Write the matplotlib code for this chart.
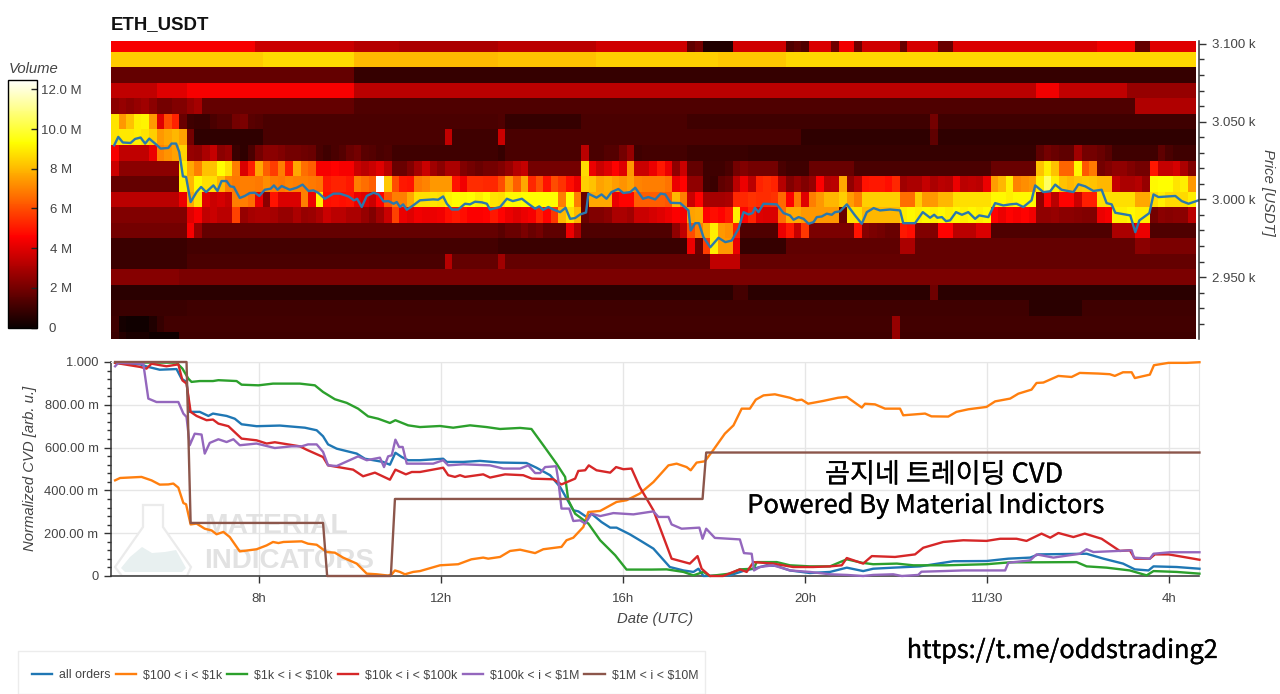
import numpy as np
import matplotlib
matplotlib.use('Agg')
import matplotlib.pyplot as plt
import matplotlib.patheffects as pe
from matplotlib.patches import Polygon, Rectangle
from matplotlib.ticker import MultipleLocator
from matplotlib.transforms import ScaledTranslation

plt.rcParams['font.family'] = ['Liberation Sans', 'DejaVu Sans']
plt.rcParams['text.parse_math'] = False

W, H = 1280, 694

# heatmap: price bands top to bottom, volume in millions per 10 minute column
price_edges = [3101.9] + [3095 - 10 * i for i in range(19)] + [2910.5]

row_00 = [4.4]*19 + [3.6]*13 + [3.2]*6 + [3.0]*13 + [3.3]*13 + [3.7]*12 + [1.6, 2.0] + [0.4]*4 + [3.7]*7 + [1.3, 1.6, 1.3] + [3.9]*3 + [1.9] + [4.3]*2 + [1.9] + [3.7]*5 + [1.8] + [3.8]*4 + [1.8]*2 + [3.9]*19 + [4.3]*5 + [1.7]*2 + [4.0]*6
row_01 = [8.35]*20 + [8.6]*12 + [8.05]*19 + [8.2]*13 + [8.4]*16 + [8.3]*9 + [8.55]*54
row_02 = [1.7]*32 + [0.8]*111
row_03 = [3.4]*6 + [4.0]*4 + [4.4]*22 + [3.3]*90 + [4.3]*3 + [3.4]*9 + [2.6]*9
row_04 = [2.4, 2.6, 2.4, 2.6, 2.8, 2.4, 2.0, 2.0, 2.2, 2.2, 2.6, 2.9] + [1.7]*20 + [1.3]*103 + [3.1]*8
row_05 = [8.8, 7.4, 8.2, 9.0, 9.1, 7.4, 4.0, 6.0, 5.2, 1.8, 1.0, 0.9, 0.9, 1.2, 1.4, 1.4, 2.0, 2.1, 1.5, 1.4] + [1.2]*31 + [1.3] + [0.8]*10 + [1.2]*14 + [1.0]*32 + [2.0] + [1.0]*34
row_06 = [8.8, 8.9, 8.9, 9.0, 8.8, 8.4, 7.4, 7.7, 8.0, 7.6, 2.0] + [0.7]*9 + [1.2]*24 + [3.4] + [1.0]*6 + [3.6] + [1.2]*39 + [0.7]*17 + [1.6] + [0.7]*34
row_07 = [4.4, 3.4, 3.4, 3.4, 3.4, 4.2, 7.0, 7.3, 7.6, 8.5, 2.6, 2.5, 3.0, 3.5, 2.4, 2.6, 0.9, 0.7, 1.2, 2.0,
          2.4, 2.4, 2.2, 2.0, 2.0, 1.9, 1.8, 1.2, 1.0, 1.2, 1.4, 1.8, 2.0, 1.5, 1.4, 1.2, 1.3] + [1.0]*14 + [0.8] + [1.2]*10 + [3.3, 1.2, 1.2, 1.4, 1.4, 2.0, 2.6, 1.0] + [1.1]*6 + [0.9]*8 + [0.8]*38 + [1.6, 2.0, 1.8, 1.6, 1.6, 2.8, 2.0, 2.0, 1.8, 1.5] + [1.0]*5 + [1.0, 1.6, 1.2, 1.0, 1.0, 1.0]
row_08 = [3.6] + [2.4]*8 + [9.0, 7.7, 6.9, 8.2, 8.2, 9.3, 8.7, 6.9, 3.9, 5.1, 7.7, 6.3, 5.7, 6.9, 5.1, 7.7, 6.6, 6.3, 4.4, 4.4,
          4.6, 4.4, 4.4, 3.6, 3.3, 3.6, 4.0, 3.3, 1.8, 1.8, 2.2, 2.9, 3.6, 2.8, 2.4, 3.0, 3.0, 2.2, 2.0, 1.8, 2.0, 2.0, 2.2, 2.6, 3.2, 3.5] + [2.0]*7 + [8.6, 4.2, 3.6, 4.0, 4.6, 4.0, 7.4, 3.6, 3.6, 4.2, 5.0, 4.2, 2.5, 3.6, 1.7, 1.7, 1.0, 1.0, 1.0, 1.2, 2.0, 2.2, 2.0, 2.0, 2.0, 2.0, 1.2, 1.0, 1.0, 1.0] + [1.8]*6 + [1.2]*18 + [1.8]*6 + [8.2, 9.0, 8.2, 6.4, 6.4, 9.2, 6.2, 6.8, 2.0, 2.2, 2.5, 2.5, 2.2, 2.0, 2.0, 5.0, 3.5, 3.5, 3.8, 3.0, 2.2]
row_09 = [1.7]*9 + [9.0, 8.0, 9.2, 8.7, 8.7, 8.0, 7.0, 6.8, 6.9, 6.9, 6.8, 7.2, 6.9, 6.8, 7.0, 6.9, 6.9, 6.8, 6.7, 5.0, 5.2, 5.2, 5.0, 6.9, 6.6, 6.3, 12.5, 8.3, 6.0, 5.0, 4.9,
          6.8, 7.0, 7.4, 7.4, 7.4, 4.9, 4.3, 5.4, 5.4, 5.3, 5.3, 6.0, 7.4, 6.3, 7.7, 5.3, 6.1, 4.9, 6.0, 5.5, 4.8, 4.2, 8.4, 8.2, 7.6, 7.8, 7.5, 7.3, 7.6, 7.0,
          6.9, 6.9, 6.9, 6.7, 4.2, 4.6, 2.5, 2.5, 1.0, 0.9, 1.6, 1.8, 3.3, 4.2, 3.3, 5.2, 5.4, 5.2, 3.2, 2.2, 2.6, 2.2, 2.6, 4.5, 3.2, 3.3, 7.7, 2.5, 3.2, 4.9, 5.0, 5.0, 4.8, 5.3,
          2.8, 3.0, 3.0, 3.5, 3.0, 3.3, 3.2, 4.2, 3.3, 3.4, 3.3, 4.2, 7.5, 8.0, 9.0, 7.0, 7.2, 7.4, 9.0, 10.5, 9.0, 8.2, 8.0, 8.2, 8.3, 8.2, 8.0, 8.0, 3.5, 3.0, 3.0, 3.2, 2.6, 9.2, 9.3, 9.3, 8.8, 9.0, 7.4]
row_10 = [3.3]*9 + [4.2, 7.7, 8.7, 4.0, 3.6, 3.8, 3.5, 6.9, 6.9, 6.6, 4.2, 2.4, 4.9, 3.9, 3.9, 3.9, 6.9, 4.2, 9.0, 4.8, 4.9, 4.8, 4.9, 4.2, 4.0, 3.6, 4.6, 6.2, 6.9, 6.9, 7.7, 8.7, 8.7, 8.8, 8.7, 9.1,
          9.3, 9.2, 9.3, 9.0, 9.3, 8.8, 8.7, 9.2, 9.2, 9.3, 9.3, 9.3, 9.3, 9.3, 6.9, 9.3, 6.9, 1.8, 7.7, 7.7, 7.7, 4.2, 4.6, 4.6, 6.3, 6.3, 6.3, 6.3, 6.2, 8.0, 6.9, 3.6, 4.6, 2.9, 2.9, 2.9, 3.0,
          5.3, 5.3, 5.5, 5.4, 5.4, 5.5, 6.5, 4.5, 6.8, 4.0, 6.9, 7.4, 8.0, 8.0, 8.4, 7.5, 6.9, 8.4, 8.4, 8.4, 8.4, 8.4, 6.6, 6.6, 8.4, 7.4, 7.4, 8.0, 8.0, 8.7, 8.7, 8.7, 8.7, 8.7,
          9.2, 9.2, 9.0, 9.2, 9.2, 9.2, 2.5, 4.6, 3.3, 4.6, 4.6, 3.6, 5.1, 5.1, 8.7, 8.7, 8.7, 8.7, 8.7, 7.7, 7.7, 8.6, 9.0, 8.6, 8.6, 8.6, 9.0]
row_11 = [2.2]*10 + [4.0, 4.4, 3.4, 3.6, 3.3, 3.3, 5.8, 2.6, 2.9, 3.0, 3.0, 2.9, 2.6, 2.6, 3.0, 2.6, 2.7, 3.0, 3.6, 3.3, 3.3, 3.0, 3.0, 2.6, 2.2, 2.8, 3.6, 5.8, 4.2, 4.0, 4.3, 4.2, 4.2, 4.3, 4.8, 5.0, 4.8, 4.5, 4.5, 4.6, 5.0,
          4.6, 4.2, 4.0, 4.2, 4.4, 5.2, 4.6, 5.6, 8.0, 8.7, 8.0, 1.8, 2.2, 2.2, 2.4, 3.0, 3.0, 2.8, 3.6, 3.6, 3.8, 4.0, 4.2, 4.5, 4.4, 7.6, 7.7, 4.6, 4.8, 4.6, 5.0, 9.0, 4.6, 5.2, 4.0, 3.9, 3.9,
          6.6, 7.7, 7.7, 7.4, 7.4, 7.4, 7.4, 7.4, 1.8, 8.7, 8.7, 8.0, 8.0, 8.0, 8.0, 8.0, 9.0, 9.2, 9.0, 9.2, 9.0, 9.2, 9.0, 9.2, 9.0, 9.2, 9.0, 9.2,
          4.6, 4.2, 4.6, 4.4, 4.6, 4.3, 2.5, 2.5, 2.6, 2.4, 2.4, 2.3, 2.2, 2.2, 4.2, 4.4, 9.0, 9.0, 9.2, 9.0, 9.0, 2.0, 2.4, 2.3, 2.4, 2.4, 3.3]
row_12 = [2.0]*10 + [4.4, 2.6] + [1.7]*39 + [1.5, 1.8, 1.8, 2.1, 1.8, 2.0, 1.6, 1.6, 1.6, 4.2, 3.0] + [1.3]*12 + [2.5, 3.4, 6.0, 6.9, 7.7, 9.0, 7.4, 7.2, 5.2] + [1.3]*5 + [4.2, 5.0, 3.5, 5.6] + [2.1]*6 + [4.9, 2.3, 2.1, 2.0, 1.8, 1.8, 5.0, 4.8, 2.2, 2.2, 2.2, 4.6, 4.6, 3.3, 3.3, 3.3, 3.9, 3.9] + [1.3]*16 + [3.0]*3 + [4.2]*2 + [1.3]*6
row_13 = [0.9]*10 + [1.1]*41 + [0.9]*25 + [4.2, 1.8, 5.7, 9.0, 7.4, 7.4, 4.2] + [0.8]*6 + [1.6]*15 + [3.0, 3.0] + [1.7]*29 + [2.4, 2.4] + [2.1]*6
row_14 = [0.9]*10 + [1.2]*34 + [3.2] + [1.7]*6 + [2.8] + [1.7]*27 + [3.4]*4 + [1.7]*60
row_15 = [2.3]*9 + [2.1]*134
row_16 = [0.6]*82 + [1.1]*2 + [0.6]*24 + [1.9] + [0.6]*34
row_17 = [0.9]*10 + [1.0]*111 + [0.6]*7 + [1.0]*15
row_18 = [1.0, 0.2, 0.1, 0.1, 0.1, 0.4, 0.8] + [1.05]*96 + [2.6] + [1.05]*39
row_19 = [0.9, 0.5, 0.3, 0.3, 0.3, 0.1, 0.1, 0.1, 0.1] + [1.0]*94 + [2.6] + [1.0]*39

rows = [row_00, row_01, row_02, row_03, row_04, row_05, row_06, row_07, row_08, row_09,
        row_10, row_11, row_12, row_13, row_14, row_15, row_16, row_17, row_18, row_19]

# price line, hours since midnight of the first day
price_t = [4.82, 4.91, 5.01, 5.18, 5.28, 5.40, 5.50, 5.59, 5.72, 5.84, 6.01, 6.08, 6.18, 6.25, 6.33, 6.40, 6.50, 6.63, 6.73, 6.84,
           7.00, 7.09, 7.18, 7.29, 7.37, 7.45, 7.58, 7.69, 7.80, 7.91, 8.01, 8.13, 8.26, 8.33, 8.41, 8.50, 8.68, 8.83, 8.96, 9.09,
           9.20, 9.31, 9.45, 9.64, 9.78, 9.97, 10.09, 10.16, 10.26, 10.37, 10.52, 10.63, 10.74, 10.85, 10.96, 11.03, 11.10, 11.17, 11.25, 11.39,
           11.54, 11.83, 11.94, 12.05, 12.13, 12.24, 12.38, 12.53, 12.64, 12.75, 12.90, 13.01, 13.08, 13.30, 13.45, 13.58, 13.78, 13.92, 14.07, 14.16,
           14.25, 14.36, 14.47, 14.62, 14.74, 14.84, 14.95, 15.06, 15.19, 15.24, 15.42, 15.53, 15.64, 15.75, 15.90, 16.01, 16.16, 16.27, 16.44, 16.56,
           16.71, 16.83, 16.93, 17.05, 17.26, 17.44, 17.49, 17.59, 17.67, 17.77, 17.92, 18.10, 18.25, 18.39, 18.54, 18.65, 18.76, 18.85, 18.90, 18.98,
           19.09, 19.38, 19.53, 19.67, 19.75, 19.86, 19.97, 20.08, 20.19, 20.26, 20.37, 20.48, 20.59, 20.66, 20.77, 20.92, 21.10, 21.25, 21.36, 21.51,
           21.65, 21.87, 22.09, 22.16, 22.42, 22.59, 22.75, 22.84, 22.91, 23.01, 23.10, 23.19, 23.32, 23.45, 23.59, 23.74, 23.83, 24.03, 24.18, 24.36,
           24.51, 24.65, 24.80, 24.98, 25.06, 25.24, 25.39, 25.50, 25.64, 25.90, 26.01, 26.16, 26.34, 26.52, 26.63, 26.74, 26.82, 27.15, 27.26, 27.35,
           27.57, 27.66, 27.77, 28.14, 28.28, 28.43, 28.65]
price_v = [3034.8, 3040.2, 3036.6, 3036.3, 3038.9, 3039.8, 3035.9, 3039.1, 3035.9, 3032.7, 3033.1, 3035.9, 3035.9, 3030.5, 3014.8, 3014.4, 2998.3, 3004.7, 3008.0, 3004.7,
           3009.0, 3005.4, 3011.8, 3011.8, 3008.4, 3008.0, 3000.9, 3002.2, 3004.1, 3004.3, 3002.2, 3006.2, 3006.9, 3009.0, 3006.2, 3008.6, 3006.2, 3007.5, 3009.5, 3005.4,
           3005.8, 3004.1, 3000.4, 3003.7, 3003.7, 3001.9, 2999.4, 3000.4, 2995.1, 3002.2, 3004.3, 3003.2, 2998.7, 2998.9, 2997.2, 2998.3, 2995.1, 2996.8, 2993.3, 2996.1,
           2999.4, 3000.0, 2999.8, 3001.9, 2997.2, 2993.5, 2993.5, 2997.2, 2996.8, 2998.5, 2998.1, 2997.2, 2993.5, 2995.1, 3000.4, 2998.9, 3000.4, 2997.2, 2994.0, 2995.5,
           2993.3, 2995.1, 2993.5, 2991.8, 2994.6, 2987.5, 2988.0, 2990.3, 2991.6, 3003.7, 3001.1, 3003.2, 3000.4, 3004.7, 3006.7, 3004.1, 3004.7, 3007.5, 3000.4, 3001.5,
           3000.0, 3003.7, 3003.2, 2997.8, 2997.6, 2992.9, 2980.0, 2984.7, 2984.7, 2975.7, 2969.2, 2975.3, 2972.5, 2973.5, 2981.1, 2991.8, 2990.3, 2991.2, 2994.6, 2991.8,
           2997.2, 2996.8, 2991.2, 2989.7, 2986.9, 2988.6, 2987.5, 2984.3, 2985.4, 2988.6, 2989.0, 2990.8, 2990.1, 2991.8, 2992.3, 2996.8, 2989.7, 2984.3, 2991.8, 2994.4,
           2992.9, 2993.5, 2992.9, 2984.7, 2984.7, 2991.8, 2988.2, 2990.1, 2988.2, 2988.6, 2986.0, 2986.5, 2991.8, 2990.1, 2991.8, 2987.5, 2989.7, 2988.6, 2997.6, 2996.1,
           2996.8, 2997.2, 2995.1, 2999.4, 3009.0, 3004.7, 3005.2, 3009.5, 3006.2, 3004.7, 3009.7, 3008.4, 3005.4, 3006.2, 2997.6, 2996.8, 2991.4, 2989.7, 2978.9, 2986.5,
           2991.2, 3003.2, 3001.5, 3002.2, 2998.9, 2997.2, 2999.4]

# normalized CVD series, hours and values
all_t = [4.84, 5.39, 5.57, 5.82, 6.19, 6.30, 6.41, 6.48, 6.70, 6.89, 6.99, 7.29, 7.47, 7.62, 7.95, 8.46, 9.01, 9.27, 9.41, 9.52, 9.71, 10.15, 10.33, 10.73, 10.88, 11.0, 11.14, 11.28, 11.54,
         12.05, 12.13, 12.49, 12.86, 13.30, 13.88, 14.10, 14.40, 14.62, 14.91, 15.02, 15.2, 15.31, 15.53, 15.72, 15.86, 16.15, 16.37, 16.67, 17.03, 17.33, 17.55, 17.66, 17.77, 18.35, 18.68, 18.87, 19.16, 19.38, 19.67, 20.11, 20.55,
         20.92, 21.28, 21.5, 21.94, 22.53, 23.26, 23.99, 24.47, 24.95, 25.13, 26.19, 26.56, 26.99, 27.25, 27.55, 27.66, 28.17, 28.67]
all_v = [.996, .989, .977, .964, .967, .922, .907, .767, .767, .748, .759, .748, .735, .709, .700, .703, .693, .681, .653, .615, .595, .572, .548, .533, .520, .576, .556, .541, .541,
         .548, .533, .533, .538, .530, .528, .506, .471, .416, .307, .302, .276, .291, .252, .226, .226, .195, .167, .128, .042, .026, .019, .034, 0, .003, .026, .034, .050, .047, .026, .014, .019,
         .039, .023, .034, .039, .045, .069, .070, .081, .086, .101, .104, .081, .058, .031, .026, .045, .042, .034]

small_t = [4.84, 4.95, 5.42, 5.64, 5.82, 6.01, 6.12, 6.23, 6.34, 6.40, 6.50, 6.63, 6.81, 6.96, 7.07, 7.22, 7.36, 7.58, 7.77, 7.95, 8.17, 8.31, 8.43, 8.54, 8.94, 9.08, 9.27, 9.49, 9.67, 9.85, 10.15, 10.37, 10.59, 10.84, 10.92, 10.99, 11.10, 11.21, 11.39, 11.54,
           11.98, 12.38, 12.67, 12.93, 13.04, 13.30, 13.52, 13.74, 14.07, 14.25, 14.65, 14.76, 14.91, 15.13, 15.24, 15.50, 15.86, 16.08, 16.37, 16.67, 17.0, 17.18, 17.40, 17.49, 17.62, 17.80, 17.98, 18.24, 18.43, 18.61, 18.79, 18.92, 19.09, 19.34, 19.67, 19.82, 19.93, 20.07, 20.40,
           20.73, 20.92, 21.25, 21.32, 21.54, 21.76, 22.09, 22.16, 22.64, 22.78, 23.15, 23.33, 23.59, 23.99, 24.18, 24.51, 24.69, 24.98, 25.09, 25.24, 25.57, 25.86, 26.04, 26.45, 26.70, 26.81, 26.99, 27.18, 27.25, 27.58, 27.67, 27.99, 28.39, 28.67]
small_v = [.447, .458, .463, .447, .427, .428, .432, .413, .341, .335, .241, .245, .221, .213, .195, .206, .182, .115, .120, .125, .143, .159, .154, .159, .162, .151, .146, .112, .109, .086, .058, .011, .008, .002, .008, .026, .019, .008, .019, .023,
           .050, .055, .078, .086, .081, .089, .117, .123, .107, .125, .136, .167, .179, .229, .299, .304, .346, .354, .385, .439, .517, .525, .509, .494, .530, .536, .587, .665, .704, .782, .782, .824, .844, .849, .833, .821, .824, .805, .818,
           .833, .837, .787, .805, .802, .782, .782, .751, .759, .746, .745, .767, .779, .790, .816, .829, .852, .871, .902, .904, .935, .930, .949, .946, .943, .935, .952, .952, .925, .941, .985, .996, .996, .999]

mid_t = [4.84, 6.19, 6.32, 6.45, 6.52, 6.70, 6.99, 7.11, 7.51, 7.62, 7.99, 8.31, 8.90, 9.23, 9.41, 9.67, 9.93, 10.18, 10.40, 10.62, 10.88, 11.0, 11.28, 11.54,
         11.98, 12.27, 12.64, 13.0, 13.3, 13.74, 13.99, 14.25, 14.54, 14.73, 14.80, 14.95, 15.24, 15.50, 15.83, 16.08, 16.63, 16.96, 17.33, 17.55, 17.77, 17.91, 18.35, 18.57, 18.87, 18.94, 19.38, 19.67, 20.11, 20.55,
         20.92, 21.25, 21.5, 22.02, 22.38, 23.11, 23.99, 24.51, 25.09, 25.97, 26.19, 26.63, 27.14, 27.51, 27.66, 28.17, 28.67]
mid_v = [.998, .997, .969, .922, .907, .911, .911, .915, .911, .894, .891, .899, .899, .891, .860, .826, .809, .782, .746, .735, .715, .728, .704, .696,
         .701, .693, .704, .696, .687, .692, .687, .611, .525, .463, .354, .291, .245, .167, .097, .030, .030, .031, .019, .003, .019, 0, .011, .031, .034, .065, .065, .050, .045, .045,
         .078, .062, .055, .058, .050, .050, .055, .064, .064, .065, .045, .039, .026, .003, .023, .019, .011]

large_t = [4.84, 5.39, 5.53, 5.64, 5.97, 6.23, 6.32, 6.41, 6.50, 6.63, 6.85, 6.99, 7.11, 7.33, 7.62, 7.95, 8.17, 8.35, 8.90, 9.05, 9.41, 9.52, 10.07, 10.29, 10.55, 10.88, 11.0, 11.23, 11.36, 11.54,
           12.05, 12.16, 12.31, 12.42, 12.53, 12.93, 13.08, 13.41, 13.81, 14.0, 14.47, 14.65, 14.95, 15.02, 15.17, 15.25, 15.42, 15.72, 15.85, 16.01, 16.19, 16.37, 16.67, 17.07, 17.47, 17.64, 17.73, 17.91, 18.2, 18.57, 18.72, 18.87, 19.30, 19.74, 20.18, 20.55,
           20.81, 20.92, 21.28, 21.47, 21.98, 22.42, 22.6, 23.04, 23.48, 23.99, 24.29, 24.65, 24.87, 25.2, 25.39, 25.57, 25.90, 26.15, 26.52, 26.92, 27.14, 27.25, 27.58, 27.69, 27.99, 28.32, 28.67]
large_v = [.996, .977, .969, .992, .980, .989, .914, .899, .767, .748, .728, .731, .712, .700, .642, .634, .619, .625, .606, .590, .556, .517, .497, .466, .483, .450, .497, .475, .486, .486,
           .506, .471, .463, .471, .463, .475, .460, .475, .471, .455, .452, .428, .455, .491, .494, .517, .494, .483, .509, .499, .502, .416, .307, .081, .058, .093, .034, 0, 0, .031, .019, .065, .058, .042, .042, .045,
           .050, .084, .058, .093, .089, .101, .132, .159, .167, .164, .174, .174, .164, .198, .179, .201, .182, .198, .174, .117, .120, .081, .081, .101, .101, .089, .076]

whale_t = [4.84, 4.91, 5.46, 5.57, 5.75, 6.23, 6.34, 6.41, 6.48, 6.59, 6.74, 6.81, 6.92, 7.11, 7.29, 7.44, 7.58, 7.95, 8.35, 8.72, 8.94, 9.08, 9.27, 9.41, 9.52, 9.71, 10.18, 10.37, 10.66, 10.75, 10.84, 10.92, 11.0, 11.08, 11.16, 11.25, 11.54,
           11.83, 12.05, 12.16, 12.49, 13.08, 13.37, 13.74, 13.92, 14.07, 14.18, 14.29, 14.53, 14.58, 14.65, 14.82, 14.91, 15.06, 15.17, 15.31, 15.50, 15.79, 16.23, 16.67, 16.78, 17.0, 17.07, 17.29, 17.68, 17.75, 17.83, 18.02, 18.57, 18.66, 18.83, 18.88, 19.01, 19.30, 19.67, 20.11, 20.55,
           20.92, 21.28, 21.5, 21.94, 22.13, 22.49, 22.56, 23.04, 23.48, 24.40, 24.47, 24.95, 25.09, 25.46, 26.04, 26.19, 26.34, 27.18, 27.23, 27.58, 27.66, 28.02, 28.67]
whale_v = [.980, .996, .992, .829, .813, .813, .759, .743, .611, .665, .661, .572, .622, .639, .626, .639, .611, .619, .598, .606, .606, .615, .615, .580, .517, .514, .559, .541, .553, .509, .559, .564, .637, .603, .603, .525, .525,
           .525, .541, .517, .522, .517, .502, .502, .517, .481, .481, .509, .513, .447, .315, .315, .257, .260, .245, .291, .280, .294, .288, .302, .276, .276, .241, .221, .226, .174, .221, .178, .171, .107, .104, .026, .042, .050, .026, .019, .008,
           .005, 0, .005, .008, 0, .005, .020, .023, .026, .026, .062, .073, .101, .086, .104, .125, .112, .120, .086, .081, .104, .111, .111]

mega_t = [4.84, 6.41, 6.50, 9.41, 9.50, 10.90, 10.99, 17.75, 17.83, 28.67]
mega_v = [1.0, 1.0, .248, .248, 0, 0, .36, .36, .577, .577]

series_t = [all_t, small_t, mid_t, large_t, whale_t, mega_t]
series_v = [all_v, small_v, mid_v, large_v, whale_v, mega_v]
labels = ['all orders', '$100 < i < $1k', '$1k < i < $10k', '$10k < i < $100k', '$100k < i < $1M', '$1M < i < $10M']
colors = ['#1f77b4', '#ff7f0e', '#2ca02c', '#d62728', '#9467bd', '#8c564b']

x_ticks = [8, 12, 16, 20, 24, 28]
x_labels = ['8h', '12h', '16h', '20h', '11/30', '4h']
cvd_ticks = [0, .2, .4, .6, .8, 1.0]
cvd_labels = ['0', '200.00 m', '400.00 m', '600.00 m', '800.00 m', '1.000']
price_ticks = [2950, 3000, 3050, 3100]
price_labels = ['2.950 k', '3.000 k', '3.050 k', '3.100 k']
vol_ticks = [0, 2, 4, 6, 8, 10, 12]
vol_labels = ['0', '2 M', '4 M', '6 M', '8 M', '10.0 M', '12.0 M']


def box(left, top, right, bottom):
    return [left / W, 1 - bottom / H, (right - left) / W, (bottom - top) / H]


def fx(x):
    return x / W


def fy(y):
    return 1 - y / H


fig = plt.figure(figsize=(W / 100, H / 100), dpi=100, facecolor='white')
text_col = '#444444'
axis_col = '#333333'
label_size = 10.7
kr_font = ['Noto Sans CJK KR', 'DejaVu Sans']
heavier = [pe.withStroke(linewidth=0.2, foreground='black')]

# heatmap panel
ax = fig.add_axes(box(111, 41, 1199, 338.5))
time_edges = 4.75 + np.arange(len(row_00) + 1) / 6
vol = np.array([r[:143] + [r[-1]] * (143 - len(r)) for r in rows])
mesh = ax.pcolormesh(time_edges, price_edges, vol, cmap='hot', vmin=0, vmax=12.5, linewidth=0, rasterized=True)
ax.plot(price_t, price_v, color='#2a78ad', lw=1.7)
ax.set_xlim(4.75, 28.66)
ax.set_ylim(2910.5, 3101.9)
for s in ['left', 'top', 'bottom']:
    ax.spines[s].set_visible(False)
ax.spines['right'].set_color(axis_col)
ax.spines['right'].set_linewidth(1.1)
ax.set_xticks([])
ax.yaxis.tick_right()
ax.set_yticks(price_ticks)
ax.set_yticklabels(price_labels, fontsize=9.5, color=text_col)
ax.yaxis.set_minor_locator(MultipleLocator(10))
ax.tick_params(axis='y', which='major', length=5, width=1, color=axis_col, pad=4.5)
ax.tick_params(axis='y', which='minor', length=3.5, width=1, color=axis_col)
fig.text(fx(1268), fy(192), 'Price [USDT]', rotation=270, style='italic', fontsize=label_size, color=text_col, ha='center', va='center')
fig.text(fx(111), fy(24.5), 'ETH_USDT', fontsize=13.4, fontweight='bold', color='#111111', ha='left', va='center')

# colour bar
cax = fig.add_axes(box(8, 79.5, 36.5, 327.5))
cb = fig.colorbar(mesh, cax=cax)
cb.set_ticks(vol_ticks)
cb.set_ticklabels(vol_labels)
cb.outline.set_edgecolor('black')
cb.outline.set_linewidth(1)
cax.tick_params(axis='y', direction='in', length=4.5, width=1, color='#222222', labelcolor=text_col, labelsize=9.5, pad=18)
for lbl in cax.get_yticklabels():
    lbl.set_ha('center')
zero_label = cax.get_yticklabels()[0]
zero_label.set_transform(zero_label.get_transform() + ScaledTranslation(-0.09, 0, fig.dpi_scale_trans))
fig.text(fx(9), fy(69), 'Volume', style='italic', fontsize=label_size, color=text_col, ha='left', va='center')

# CVD panel
bx = fig.add_axes(box(111, 362, 1199, 576))
bx.set_xlim(4.75, 28.66)
bx.set_ylim(0, 1)
bx.grid(True, color='#e6e6e6', lw=1)
bx.set_axisbelow(True)

# watermark behind the lines
tf = fig.transFigure
flask = [(143, 505), (163, 505), (163, 527), (191, 567), (187, 576), (122, 576), (115, 567), (143, 527)]
bx.add_patch(Polygon([(fx(a), fy(b)) for a, b in flask], transform=tf, closed=True, fc='white', ec='#ebebeb', lw=1.6, zorder=1.1))
liquid = [(121, 568), (130, 557), (142, 547), (152, 553), (165, 552), (176, 550), (186, 568), (182, 572), (125, 572)]
bx.add_patch(Polygon([(fx(a), fy(b)) for a, b in liquid], transform=tf, closed=True, fc='#e8f0f0', ec='none', zorder=1.2))
bx.text(fx(204), fy(526), 'MATERIAL', transform=tf, family='Liberation Sans', fontweight='bold', fontsize=20.3, color='#e2e2e2', va='center', ha='left', zorder=1.2)
bx.text(fx(204), fy(561), 'INDICATORS', transform=tf, family='Liberation Sans', fontweight='bold', fontsize=20, color='#e2e2e2', va='center', ha='left', zorder=1.2)

handles = []
for t, v, lab, c in zip(series_t, series_v, labels, colors):
    line, = bx.plot(t, v, color=c, lw=1.7, label=lab, clip_on=False, zorder=3, solid_joinstyle='round')
    handles.append(line)

for s in ['top', 'right']:
    bx.spines[s].set_color('#e6e6e6')
for s in ['left', 'bottom']:
    bx.spines[s].set_color(axis_col)
    bx.spines[s].set_linewidth(1.1)
bx.set_xticks(x_ticks)
bx.set_xticklabels(x_labels, fontsize=9.5, color=text_col)
bx.set_yticks(cvd_ticks)
bx.set_yticklabels(cvd_labels, fontsize=9.3, color=text_col)
bx.yaxis.set_minor_locator(MultipleLocator(.04))
bx.tick_params(axis='y', which='major', length=5, width=1, color=axis_col, pad=4)
bx.tick_params(axis='x', which='major', length=5, width=1, color=axis_col, pad=7)
bx.tick_params(axis='y', which='minor', length=3, width=1, color=axis_col)
fig.text(fx(655), fy(619.5), 'Date (UTC)', style='italic', fontsize=label_size, color=text_col, ha='center', va='center')
fig.text(fx(30), fy(468), 'Normalized CVD [arb. u.]', rotation=90, style='italic', fontsize=label_size, color=text_col, ha='center', va='center')

# overlaid channel captions
bx.text(fx(944), fy(475), '곰지네 트레이딩 CVD', transform=tf, family=kr_font, fontsize=19.5, color='black', ha='center', va='center', zorder=5, path_effects=heavier)
bx.text(fx(926.5), fy(506), 'Powered By Material Indictors', transform=tf, family=kr_font, fontsize=18.4, color='black', ha='center', va='center', zorder=5, path_effects=heavier)
fig.text(fx(1062.5), fy(651), 'https://t.me/oddstrading2', family=kr_font, fontsize=18.2, color='black', ha='center', va='center', path_effects=heavier)

# legend box runs off the bottom of the picture
fig.add_artist(Rectangle((fx(18), fy(694)), (705 - 18) / W, 43 / H, transform=tf, fc='white', ec='#ececec', lw=1))
fig.legend(handles=handles, loc='center left', bbox_to_anchor=(fx(20.5), fy(675.5)), ncols=6, frameon=False,
           fontsize=8.9, handlelength=1.65, handletextpad=0.55, columnspacing=0.42, labelcolor=text_col)

fig.savefig('out.png', dpi=100)
